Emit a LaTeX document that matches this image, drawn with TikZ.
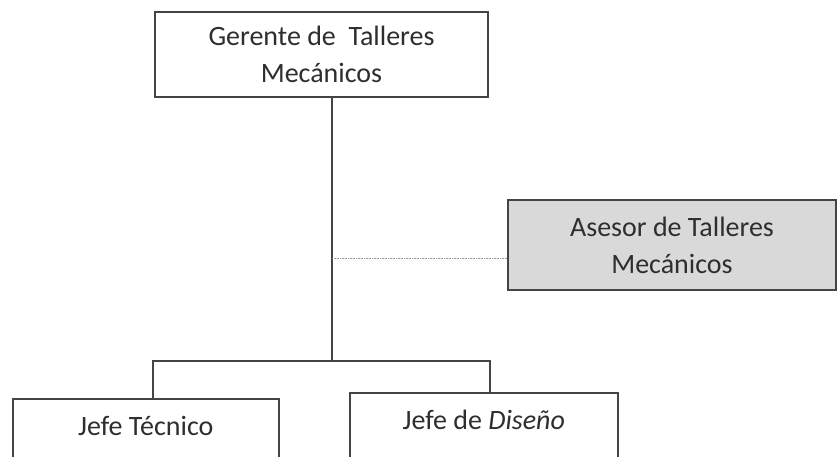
\documentclass[tikz,border=0pt]{standalone}
\usepackage{fontspec}
\setmainfont{Carlito}
\definecolor{ink}{HTML}{2E2E2E}
\definecolor{edge}{HTML}{444444}
\definecolor{shade}{HTML}{D9D9D9}
\begin{document}
\begin{tikzpicture}[x=1pt,y=-1pt,
  box/.style={draw=edge,line width=1.6pt,rectangle,inner sep=0pt,align=center,
    font=\fontsize{28}{37}\selectfont,text=ink},
  link/.style={draw=edge,line width=1.4pt},
  dotlink/.style={draw=gray!80,line width=0.6pt,densely dotted}]
\clip (0,0) rectangle (838,457);
\fill[white] (0,0) rectangle (838,457);
\node[box,minimum width=333pt,minimum height=85pt] (ger) at (321.5,54.5)
  {Gerente de\ \ Talleres\\Mecánicos};
\node[box,fill=shade,minimum width=328pt,minimum height=90pt] (ase) at (672,245)
  {Asesor de Talleres\\Mecánicos};
\node[box,anchor=north west,minimum width=266pt,
  text height=37pt,text depth=50pt] (jt) at (12,398) {Jefe Técnico};
\node[box,anchor=north west,minimum width=268pt,
  text height=37pt,text depth=55pt] (jd) at (349,392) {Jefe de \textit{Diseño}};
\coordinate (j) at (332,361);
\coordinate (d) at (332,258);
\draw[link] (ger.south -| j) -- (j);
\draw[link] (jt.north -| 153,0) |- (j) -| (jd.north -| 490,0);
\draw[dotlink] (d) -- (d -| ase.west);
\end{tikzpicture}
\end{document}
